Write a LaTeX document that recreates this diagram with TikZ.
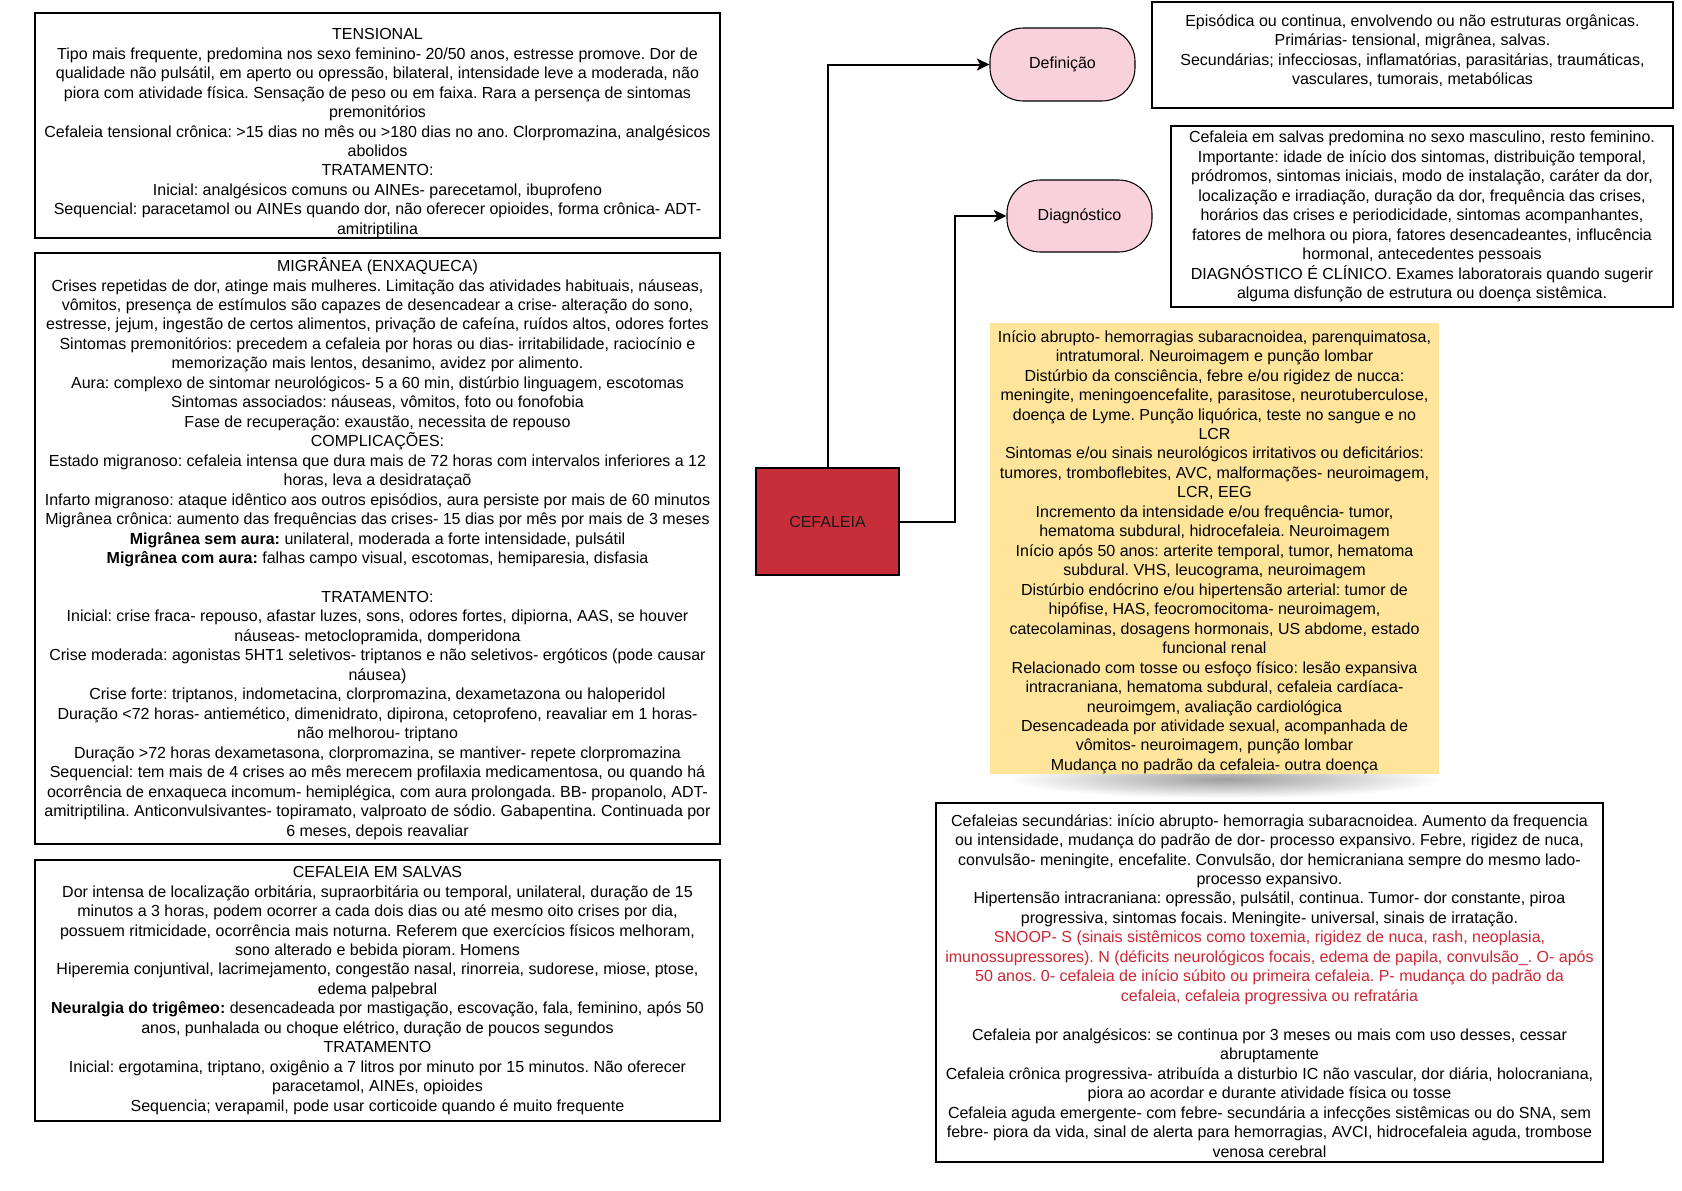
\documentclass[tikz,border=0pt]{standalone}
\usepackage{fontspec}
\setmainfont{Liberation Sans}
\usetikzlibrary{arrows.meta,fadings}
\definecolor{cefred}{RGB}{200,46,58}
\definecolor{nodepink}{RGB}{249,209,220}
\definecolor{noteyellow}{RGB}{255,229,156}
\definecolor{snoopred}{RGB}{206,38,52}
\tikzfading[name=shadowfade, inner color=transparent!0, outer color=transparent!100]
\begin{document}
\frenchspacing
\begin{tikzpicture}[x=0.75pt,y=-0.75pt,
  sz/.style 2 args={minimum width=#1*0.75pt, minimum height=#2*0.75pt},
  txt/.style={align=center, inner sep=0pt, font=\fontsize{12}{14.6}\selectfont\frenchspacing},
  txtbox/.style={txt, draw=black, line width=1.5pt},
  pill/.style={txt, draw=black, line width=0.8pt, fill=nodepink, rounded corners=25pt},
  mainbox/.style={txt, draw=black, line width=2pt, fill=cefred, text=black!90},
  conn/.style={line width=1.5pt, -{Stealth[length=9.5pt,width=9pt,inset=2.5pt]}}
]
\useasboundingbox (0,0) rectangle (1682,1190);
\fill[white] (0,0) rectangle (1682,1190);

% left column
\node[txtbox, sz={685}{223}] (tens) at (377.5,125.5) {\rule{0pt}{19.8pt}TENSIONAL\\
Tipo mais frequente, predomina nos sexo feminino- 20/50 anos, estresse promove. Dor de\\
qualidade não pulsátil, em aperto ou opressão, bilateral, intensidade leve a moderada, não\\
piora com atividade física. Sensação de peso ou em faixa. Rara a persença de sintomas\\
premonitórios\\
Cefaleia tensional crônica: >15 dias no mês ou >180 dias no ano. Clorpromazina, analgésicos\\
abolidos\\
TRATAMENTO:\\
Inicial: analgésicos comuns ou AINEs- parecetamol, ibuprofeno\\
Sequencial: paracetamol ou AINEs quando dor, não oferecer opioides, forma crônica- ADT-\\
amitriptilina};

\node[txtbox, sz={685}{591}] (migr) at (377.5,548.5) {MIGRÂNEA (ENXAQUECA)\\
Crises repetidas de dor, atinge mais mulheres. Limitação das atividades habituais, náuseas,\\
vômitos, presença de estímulos são capazes de desencadear a crise- alteração do sono,\\
estresse, jejum, ingestão de certos alimentos, privação de cafeína, ruídos altos, odores fortes\\
Sintomas premonitórios: precedem a cefaleia por horas ou dias- irritabilidade, raciocínio e\\
memorização mais lentos, desanimo, avidez por alimento.\\
Aura: complexo de sintomar neurológicos- 5 a 60 min, distúrbio linguagem, escotomas\\
Sintomas associados: náuseas, vômitos, foto ou fonofobia\\
Fase de recuperação: exaustão, necessita de repouso\\
COMPLICAÇÕES:\\
Estado migranoso: cefaleia intensa que dura mais de 72 horas com intervalos inferiores a 12\\
horas, leva a desidrataçaõ\\
Infarto migranoso: ataque idêntico aos outros episódios, aura persiste por mais de 60 minutos\\
Migrânea crônica: aumento das frequências das crises- 15 dias por mês por mais de 3 meses\\
\textbf{Migrânea sem aura:} unilateral, moderada a forte intensidade, pulsátil\\
\textbf{Migrânea com aura:} falhas campo visual, escotomas, hemiparesia, disfasia\\
\mbox{}\\
TRATAMENTO:\\
Inicial: crise fraca- repouso, afastar luzes, sons, odores fortes, dipiorna, AAS, se houver\\
náuseas- metoclopramida, domperidona\\
Crise moderada: agonistas 5HT1 seletivos- triptanos e não seletivos- ergóticos (pode causar\\
náusea)\\
Crise forte: triptanos, indometacina, clorpromazina, dexametazona ou haloperidol\\
Duração <72 horas- antiemético, dimenidrato, dipirona, cetoprofeno, reavaliar em 1 horas-\\
não melhorou- triptano\\
Duração >72 horas dexametasona, clorpromazina, se mantiver- repete clorpromazina\\
Sequencial: tem mais de 4 crises ao mês merecem profilaxia medicamentosa, ou quando há\\
ocorrência de enxaqueca incomum- hemiplégica, com aura prolongada. BB- propanolo, ADT-\\
amitriptilina. Anticonvulsivantes- topiramato, valproato de sódio. Gabapentina. Continuada por\\
6 meses, depois reavaliar};

\node[txtbox, sz={685}{261}] (salv) at (377.5,990.5) {CEFALEIA EM SALVAS\\
Dor intensa de localização orbitária, supraorbitária ou temporal, unilateral, duração de 15\\
minutos a 3 horas, podem ocorrer a cada dois dias ou até mesmo oito crises por dia,\\
possuem ritmicidade, ocorrência mais noturna. Referem que exercícios físicos melhoram,\\
sono alterado e bebida pioram. Homens\\
Hiperemia conjuntival, lacrimejamento, congestão nasal, rinorreia, sudorese, miose, ptose,\\
edema palpebral\\
\textbf{Neuralgia do trigêmeo:} desencadeada por mastigação, escovação, fala, feminino, após 50\\
anos, punhalada ou choque elétrico, duração de poucos segundos\\
TRATAMENTO\\
Inicial: ergotamina, triptano, oxigênio a 7 litros por minuto por 15 minutos. Não oferecer\\
paracetamol, AINEs, opioides\\
Sequencia; verapamil, pode usar corticoide quando é muito frequente};

% centre
\node[mainbox, sz={143}{107}] (cef) at (827.5,521.5) {CEFALEIA};

\node[pill, sz={145}{73}] (def) at (1062.5,64.5) {Definição};
\node[pill, sz={145}{72}] (diag) at (1079.5,216) {Diagnóstico};

\draw[conn] (cef.north) |- (def.west);
\draw[conn] (cef.east) -- ++(55,0) |- (diag.west);

% right column
\node[txtbox, sz={521}{106}] (deft) at (1412.5,55) {Episódica ou continua, envolvendo ou não estruturas orgânicas.\\
Primárias- tensional, migrânea, salvas.\\
Secundárias; infecciosas, inflamatórias, parasitárias, traumáticas,\\
vasculares, tumorais, metabólicas\\[-6.5pt]\mbox{}};

\node[txtbox, sz={502}{181}] (diagt) at (1422,216.5) {Cefaleia em salvas predomina no sexo masculino, resto feminino.\\
Importante: idade de início dos sintomas, distribuição temporal,\\
pródromos, sintomas iniciais, modo de instalação, caráter da dor,\\
localização e irradiação, duração da dor, frequência das crises,\\
horários das crises e periodicidade, sintomas acompanhantes,\\
fatores de melhora ou piora, fatores desencadeantes, influcência\\
hormonal, antecedentes pessoais\\
DIAGNÓSTICO É CLÍNICO. Exames laboratorais quando sugerir\\
alguma disfunção de estrutura ou doença sistêmica.};

\fill[black!38, path fading=shadowfade] (1010,760) rectangle (1440,798);
\node[txt, fill=noteyellow, sz={449}{447}] (yel) at (1214.5,548.5) {\rule{0pt}{14.2pt}Início abrupto- hemorragias subaracnoidea, parenquimatosa,\\
intratumoral. Neuroimagem e punção lombar\\
Distúrbio da consciência, febre e/ou rigidez de nucca:\\
meningite, meningoencefalite, parasitose, neurotuberculose,\\
doença de Lyme. Punção liquórica, teste no sangue e no\\
LCR\\
Sintomas e/ou sinais neurológicos irritativos ou deficitários:\\
tumores, tromboflebites, AVC, malformações- neuroimagem,\\
LCR, EEG\\
Incremento da intensidade e/ou frequência- tumor,\\
hematoma subdural, hidrocefaleia. Neuroimagem\\
Início após 50 anos: arterite temporal, tumor, hematoma\\
subdural. VHS,  leucograma, neuroimagem\\
Distúrbio endócrino e/ou hipertensão arterial: tumor de\\
hipófise, HAS, feocromocitoma- neuroimagem,\\
catecolaminas, dosagens hormonais, US abdome, estado\\
funcional renal\\
Relacionado com tosse ou esfoço físico: lesão expansiva\\
intracraniana, hematoma subdural, cefaleia cardíaca-\\
neuroimgem, avaliação cardiológica\\
Desencadeada por atividade sexual, acompanhada de\\
vômitos- neuroimagem, punção lombar\\
Mudança no padrão da cefaleia- outra doença};

\node[txtbox, sz={667}{359}] (bot) at (1269.5,982.5) {\rule{0pt}{13.7pt}Cefaleias secundárias: início abrupto- hemorragia subaracnoidea. Aumento da frequencia\\
ou intensidade, mudança do padrão de dor- processo expansivo. Febre, rigidez de nuca,\\
convulsão- meningite, encefalite. Convulsão, dor hemicraniana sempre do mesmo lado-\\
processo expansivo.\\
Hipertensão intracraniana: opressão, pulsátil, continua. Tumor- dor constante, piroa\\
progressiva, sintomas focais. Meningite- universal, sinais de irratação.\\
\textcolor{snoopred}{SNOOP- S (sinais sistêmicos como toxemia, rigidez de nuca, rash, neoplasia,}\\
\textcolor{snoopred}{imunossupressores). N (déficits neurológicos focais, edema de papila, convulsão\_. O- após}\\
\textcolor{snoopred}{50 anos. 0- cefaleia de início súbito ou primeira cefaleia. P- mudança do padrão da}\\
\textcolor{snoopred}{cefaleia, cefaleia progressiva ou refratária}\\
\mbox{}\\
Cefaleia por analgésicos: se continua por 3 meses ou mais com uso desses, cessar\\
abruptamente\\
Cefaleia crônica progressiva- atribuída a disturbio IC não vascular, dor diária, holocraniana,\\
piora ao acordar e durante atividade física ou tosse\\
Cefaleia aguda emergente- com febre- secundária a infecções sistêmicas ou do SNA, sem\\
febre- piora da vida, sinal de alerta para hemorragias, AVCI, hidrocefaleia aguda, trombose\\
venosa cerebral};
\end{tikzpicture}
\end{document}
